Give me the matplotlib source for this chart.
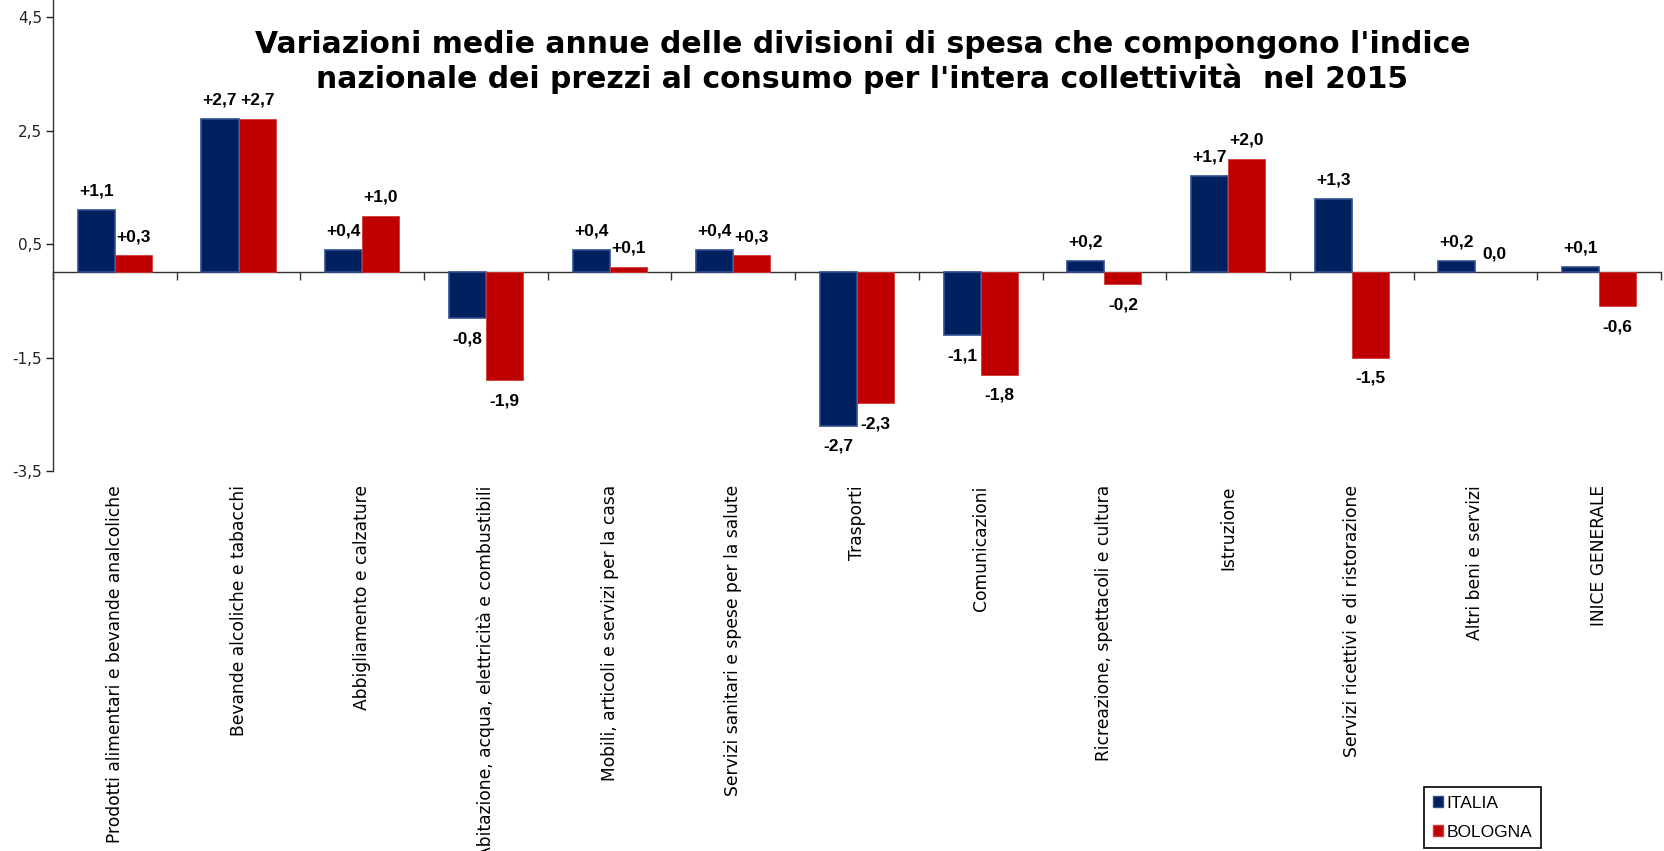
import matplotlib
matplotlib.use("Agg")
import matplotlib.pyplot as plt
import numpy as np
from matplotlib.patches import Patch

# divisioni di spesa (the last label keeps the typo of the original chart)
categorie = [
    "Prodotti alimentari e bevande analcoliche",
    "Bevande alcoliche e tabacchi",
    "Abbigliamento e calzature",
    "Abitazione, acqua, elettricità e combustibili",
    "Mobili, articoli e servizi per la casa",
    "Servizi sanitari e spese per la salute",
    "Trasporti",
    "Comunicazioni",
    "Ricreazione, spettacoli e cultura",
    "Istruzione",
    "Servizi ricettivi e di ristorazione",
    "Altri beni e servizi",
    "INICE GENERALE",
]
italia = [1.1, 2.7, 0.4, -0.8, 0.4, 0.4, -2.7, -1.1, 0.2, 1.7, 1.3, 0.2, 0.1]
bologna = [0.3, 2.7, 1.0, -1.9, 0.1, 0.3, -2.3, -1.8, -0.2, 2.0, -1.5, 0.0, -0.6]
y_ticks = [-3.5, -1.5, 0.5, 2.5, 4.5]

titolo = ("Variazioni medie annue delle divisioni di spesa che compongono l'indice\n"
          "nazionale dei prezzi al consumo per l'intera collettività  nel 2015")

col_ita = "#002060"
col_bol = "#C00000"


def etichetta(v):
    # excel style: +1,1 / -0,8 / 0,0
    s = f"{abs(v):.1f}".replace(".", ",")
    if v > 0:
        return "+" + s
    if v < 0:
        return "-" + s
    return s


fig = plt.figure(figsize=(16.65, 8.51), dpi=100)
ax = fig.add_axes([53 / 1665, 1 - 471 / 851, (1661 - 53) / 1665, 471 / 851])

x = np.arange(len(categorie))
w = 0.3
b1 = ax.bar(x - w / 2, italia, w, color=col_ita, edgecolor="#2f4f8f", linewidth=1.2, zorder=3)
b2 = ax.bar(x + w / 2, bologna, w, color=col_bol, edgecolor="#d23a3a", linewidth=0.6, zorder=3)

for bars, vals in ((b1, italia), (b2, bologna)):
    for r, v in zip(bars, vals):
        if v == 0:
            r.set_linewidth(0)
        cx = r.get_x() + r.get_width() / 2
        off = 13.5 if v >= 0 else -15
        ax.annotate(etichetta(v), (cx, v), xytext=(0, off), textcoords="offset points",
                    ha="center", va="center", fontsize=12.5, fontweight="bold",
                    family="Liberation Sans", color="black")

ax.set_xlim(-0.5, len(categorie) - 0.5)
ax.set_ylim(-3.5, 4.8)
ax.set_yticks(y_ticks)
ax.set_yticklabels([f"{t:.1f}".replace(".", ",") for t in y_ticks], fontsize=11, family="DejaVu Sans")
ax.tick_params(axis="y", direction="out", length=5, width=1, colors="#222222", pad=3)

# x axis crosses at zero, ticks between the groups
ax.spines["bottom"].set_position(("data", 0))
ax.spines["top"].set_visible(False)
ax.spines["right"].set_visible(False)
for s in ("left", "bottom"):
    ax.spines[s].set_color("#333333")
    ax.spines[s].set_linewidth(1.0)
ax.set_xticks(np.arange(len(categorie) + 1) - 0.5)
ax.set_xticklabels([])
ax.tick_params(axis="x", direction="out", length=6, width=1, colors="#333333")

# category labels sit below the plot area, not at the zero line
for xi, c in zip(x, categorie):
    ax.text(xi, -0.03, c, transform=ax.get_xaxis_transform(), rotation=90,
            ha="center", va="top", fontsize=12.3, family="DejaVu Sans", color="black")

fig.text(0.518, 1 - 62 / 851, titolo, ha="center", va="center", fontsize=21.5,
         fontweight="bold", family="DejaVu Sans", linespacing=1.2)

handles = [Patch(facecolor=col_ita, edgecolor="#2f4f8f", label="ITALIA"),
           Patch(facecolor=col_bol, edgecolor="#d23a3a", label="BOLOGNA")]
leg = fig.legend(handles=handles, loc="upper left", bbox_to_anchor=(1424 / 1665, 1 - 787 / 851),
                 prop={"family": "Liberation Sans", "size": 12.5}, fancybox=False,
                 edgecolor="black", handlelength=0.6, handleheight=0.6, handletextpad=0.2,
                 labelspacing=0.8, borderpad=0.5, borderaxespad=0)
leg.get_frame().set_linewidth(1.2)
leg.get_frame().set_alpha(1)

fig.savefig("out.png", dpi=100)
